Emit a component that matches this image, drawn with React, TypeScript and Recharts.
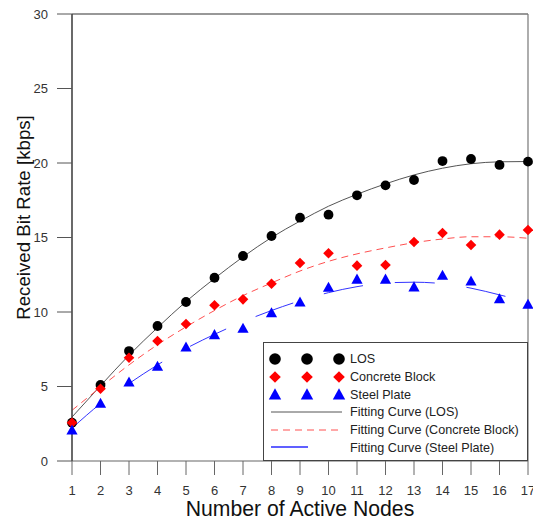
import {
  ComposedChart,
  Legend,
  Line,
  ReferenceLine,
  XAxis,
  YAxis,
} from "recharts";

const nodes = [1, 2, 3, 4, 5, 6, 7, 8, 9, 10, 11, 12, 13, 14, 15, 16, 17];

const losRate = [2.57, 5.1, 7.38, 9.06, 10.67, 12.3, 13.76, 15.1, 16.33, 16.53, 17.83, 18.5, 18.86, 20.13, 20.27, 19.87, 20.09];
const concreteRate = [2.57, 4.85, 6.93, 8.05, 9.19, 10.45, 10.85, 11.9, 13.29, 13.94, 13.11, 13.15, 14.7, 15.3, 14.5, 15.19, 15.5];
const steelRate = [2.08, 3.87, 5.3, 6.35, 7.65, 8.48, 8.9, 9.95, 10.67, 11.66, 12.2, 12.2, 11.68, 12.46, 12.08, 10.89, 10.52];

const losFit = [2.95, 5.05, 7.1, 8.95, 10.7, 12.25, 13.7, 15.0, 16.1, 17.1, 17.9, 18.6, 19.2, 19.65, 19.95, 20.08, 20.1];
const concreteFit = [3.4, 4.95, 6.45, 7.8, 9.0, 10.1, 11.1, 11.95, 12.75, 13.4, 13.9, 14.3, 14.65, 14.9, 15.05, 15.05, 14.95];
const steelFit = [2.2, 3.85, 5.2, 6.45, 7.55, 8.5, 9.35, 10.1, 10.75, 11.3, 11.7, 11.95, 12.0, 11.9, 11.6, 11.15, 10.65];

const yTicks = [0, 5, 10, 15, 20, 25, 30];

const table = nodes.map((node, i) => ({
  node,
  los: losRate[i],
  concrete: concreteRate[i],
  steel: steelRate[i],
  losFit: losFit[i],
  concreteFit: concreteFit[i],
  steelFit: steelFit[i],
}));

const FONT = "Arial, 'Liberation Sans', sans-serif";

// marker shapes; `rad` is our own size prop so Line's default r doesn't win
const Circle = (props: any) => {
  const { cx, cy, rad = 4.9 } = props;
  if (cx == null || cy == null) return null;
  return <circle cx={cx} cy={cy} r={rad} fill="#000" />;
};

const Diamond = (props: any) => {
  const { cx, cy, s = 5.3 } = props;
  if (cx == null || cy == null) return null;
  return (
    <path
      d={`M${cx},${cy - s}L${cx + s},${cy}L${cx},${cy + s}L${cx - s},${cy}Z`}
      fill="#ff0000"
    />
  );
};

const Triangle = (props: any) => {
  const { cx, cy, s = 5.6 } = props;
  if (cx == null || cy == null) return null;
  return (
    <path
      d={`M${cx},${cy - s}L${cx + s},${cy + s * 0.8}L${cx - s},${cy + s * 0.8}Z`}
      fill="#0000ff"
    />
  );
};

const legendRows: [string, number][] = [
  ["LOS", 17],
  ["Concrete Block", 35],
  ["Steel Plate", 52.5],
  ["Fitting Curve (LOS)", 70],
  ["Fitting Curve (Concrete Block)", 88],
  ["Fitting Curve (Steel Plate)", 105.5],
];

function LegendBox() {
  const markerX = [12, 44, 76];
  return (
    <svg width={266} height={120} style={{ fontFamily: FONT }}>
      <rect x={0.5} y={0.5} width={264} height={118} fill="#fff" stroke="#444" />
      {markerX.map((x) => (
        <Circle key={"c" + x} cx={x} cy={17} rad={5.8} />
      ))}
      {markerX.map((x) => (
        <Diamond key={"d" + x} cx={x} cy={35} s={5.8} />
      ))}
      {markerX.map((x) => (
        <Triangle key={"t" + x} cx={x} cy={52.5} s={6.2} />
      ))}
      <line x1={8} x2={79} y1={70} y2={70} stroke="#555" />
      <line x1={8} x2={77} y1={88} y2={88} stroke="#ff5050" strokeDasharray="7 5" />
      <line x1={8} x2={45} y1={105} y2={105} stroke="#2b2bff" strokeWidth={1.3} />
      {legendRows.map(([t, y]) => (
        <text key={t} x={87} y={y} dy="0.35em" fontSize={12.6} fill="#222">
          {t}
        </text>
      ))}
    </svg>
  );
}

export default function App() {
  return (
    <div style={{ position: "fixed", left: 0, top: 0, background: "#fff" }}>
      <ComposedChart
        width={533}
        height={520}
        data={table}
        margin={{ top: 14, right: 5, bottom: 0, left: 0 }}
        style={{ fontFamily: FONT }}
      >
        <XAxis
          dataKey="node"
          type="number"
          domain={[1, 17]}
          ticks={nodes}
          interval={0}
          height={59}
          tickSize={14}
          tickMargin={11}
          axisLine={{ stroke: "#666", strokeWidth: 1.2 }}
          tickLine={{ stroke: "#666" }}
          tick={{ fill: "#333", fontSize: 13 }}
          label={{
            value: "Number of Active Nodes",
            position: "center",
            dy: 18,
            fontSize: 21.2,
            fill: "#111",
          }}
        />
        <YAxis
          domain={[0, 30]}
          ticks={yTicks}
          width={72}
          tickSize={15}
          tickMargin={9}
          axisLine={{ stroke: "#444", strokeWidth: 1.6 }}
          tickLine={{ stroke: "#555" }}
          tick={{ fill: "#333", fontSize: 13 }}
          label={{
            value: "Received Bit Rate [kbps]",
            angle: -90,
            position: "center",
            dx: -13,
            dy: -20,
            fontSize: 18.7,
            fill: "#111",
          }}
        />
        <ReferenceLine y={30} stroke="#333" strokeWidth={1.2} ifOverflow="visible" />
        <ReferenceLine x={17} stroke="#777" strokeWidth={1.2} ifOverflow="visible" />
        <Legend
          layout="vertical"
          align="center"
          verticalAlign="middle"
          content={() => <LegendBox />}
          wrapperStyle={{ left: 263, top: 342, width: 266, height: 120 }}
        />
        <Line dataKey="losFit" type="monotone" stroke="#555" strokeWidth={1} dot={false} activeDot={false} isAnimationActive={false} />
        <Line dataKey="concreteFit" type="monotone" stroke="#ff5050" strokeWidth={1} strokeDasharray="7 5" dot={false} activeDot={false} isAnimationActive={false} />
        <Line dataKey="steelFit" type="monotone" stroke="#3333ff" strokeWidth={1} strokeDasharray="40 32" dot={false} activeDot={false} isAnimationActive={false} />
        <Line dataKey="los" stroke="none" dot={<Circle />} activeDot={false} isAnimationActive={false} />
        <Line dataKey="concrete" stroke="none" dot={<Diamond />} activeDot={false} isAnimationActive={false} />
        <Line dataKey="steel" stroke="none" dot={<Triangle />} activeDot={false} isAnimationActive={false} />
      </ComposedChart>
    </div>
  );
}
